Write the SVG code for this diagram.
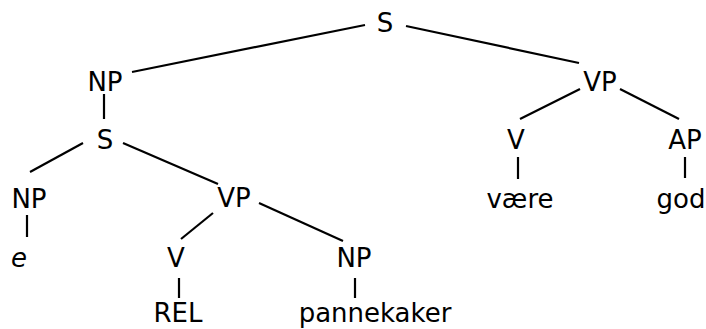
<svg xmlns="http://www.w3.org/2000/svg" width="706" height="329" viewBox="0 0 706 329">
  <style>
    .lbl { font-family: "DejaVu Sans", Verdana, sans-serif; font-size: 26px; fill: #000; text-anchor: middle; }
    .it { font-style: italic; }
    .edges line { stroke: #000; stroke-width: 2.2; stroke-linecap: butt; }
  </style>
  <rect width="706" height="329" fill="#fff"/>
  <g class="edges">
    <line x1="365" y1="25" x2="132" y2="72"/>
    <line x1="406" y1="26" x2="579" y2="63"/>
    <line x1="104" y1="94" x2="104" y2="119"/>
    <line x1="83" y1="143" x2="30" y2="172"/>
    <line x1="123" y1="143" x2="218" y2="184"/>
    <line x1="580" y1="89" x2="520" y2="119"/>
    <line x1="620" y1="89" x2="679" y2="119"/>
    <line x1="518" y1="157" x2="518" y2="179"/>
    <line x1="685" y1="157" x2="685" y2="178"/>
    <line x1="27" y1="215" x2="27" y2="237"/>
    <line x1="213" y1="213" x2="181" y2="239"/>
    <line x1="259" y1="203" x2="343" y2="241"/>
    <line x1="179" y1="278" x2="179" y2="298"/>
    <line x1="355" y1="278" x2="355" y2="298"/>
  </g>
  <g id="n-s-root"><text class="lbl" x="385" y="32">S</text></g>
  <g id="n-np-top"><text class="lbl" x="105" y="91">NP</text></g>
  <g id="n-vp-top"><text class="lbl" x="600" y="91">VP</text></g>
  <g id="n-s-rel"><text class="lbl" x="105" y="149">S</text></g>
  <g id="n-v-top"><text class="lbl" x="516" y="149">V</text></g>
  <g id="n-ap"><text class="lbl" x="685" y="149">AP</text></g>
  <g id="n-vaere"><text class="lbl" x="520" y="208">være</text></g>
  <g id="n-god"><text class="lbl" x="681" y="208">god</text></g>
  <g id="n-np-e"><text class="lbl" x="29" y="208">NP</text></g>
  <g id="n-e"><text class="lbl it" x="19" y="267">e</text></g>
  <g id="n-vp-rel"><text class="lbl" x="234" y="207">VP</text></g>
  <g id="n-v-rel"><text class="lbl" x="176" y="267">V</text></g>
  <g id="n-np-obj"><text class="lbl" x="354" y="267">NP</text></g>
  <g id="n-rel"><text class="lbl" x="178" y="322">REL</text></g>
  <g id="n-pannekaker"><text class="lbl" x="375" y="322">pannekaker</text></g>
</svg>
